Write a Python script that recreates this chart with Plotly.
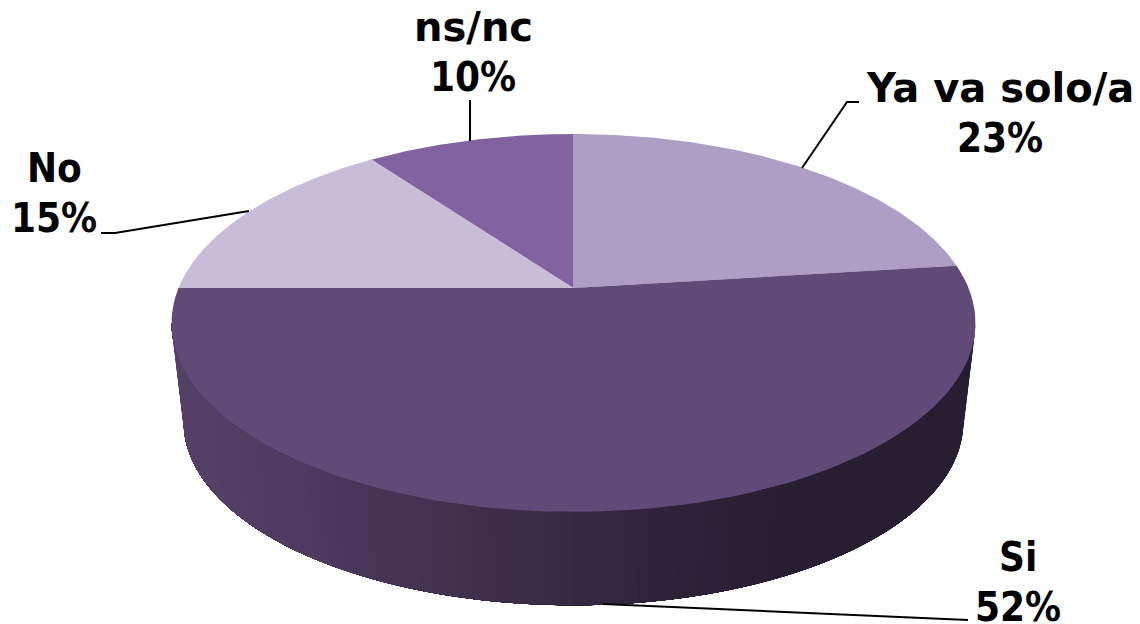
import numpy as np
import plotly.graph_objects as go

# --- data ---
categories = ["Ya va solo/a", "Si", "No", "ns/nc"]
values = [23, 52, 15, 10]
top_colors = ["#ae9dc4", "#604a78", "#c8bdd8", "#80639f"]

# --- perspective geometry (pixel space) ---
CX, CY, W, H, K = 573.5, 288.0, 395.0, 182.5, 0.185
ELL_CY = 323.0
LOW_CY, LOW_SCALE = 422.0, 0.97


def project(t):
    X, Y = np.sin(t), np.cos(t)
    d = 1 + K * Y
    return CX + W * X / d, CY - H * Y / d


def lower(x, y):
    return CX + (x - CX) * LOW_SCALE, LOW_CY + (y - ELL_CY) * LOW_SCALE


side_stops_x = [172, 300, 400, 573, 700, 800, 975]
side_stops_rgb = [(85, 64, 105), (78, 59, 97), (69, 52, 84), (56, 41, 68),
                  (44, 33, 54), (39, 30, 49), (39, 30, 49)]


def side_color(x):
    c = [np.interp(x, side_stops_x, [s[i] for s in side_stops_rgb]) for i in range(3)]
    return "rgb(%d,%d,%d)" % tuple(round(v) for v in c)


fig = go.Figure()

# side wall: painted right-to-left order so each band covers everything beyond it
t0 = np.arccos(-K)
t1 = 2 * np.pi - t0
edges = np.linspace(t0, t1, 101)  # t0 = right edge, t1 = left edge
for a in edges[:-1]:
    ts = np.linspace(a, t1, 120)
    ux, uy = project(ts)
    lx, ly = lower(ux, uy)
    col = side_color(project(np.array([a]))[0][0])
    fig.add_trace(go.Scatter(
        x=np.concatenate([ux, lx[::-1]]), y=np.concatenate([uy, ly[::-1]]),
        mode="lines", fill="toself", fillcolor=col,
        line=dict(color=col, width=0), hoverinfo="skip", showlegend=False))

# top face
total = sum(values)
start = 0.0
for name, v, c in zip(categories, values, top_colors):
    ts = np.linspace(start, start + v / total, 120) * 2 * np.pi
    px, py = project(ts)
    fig.add_trace(go.Scatter(
        x=np.concatenate([[CX], px, [CX]]), y=np.concatenate([[CY], py, [CY]]),
        mode="lines", fill="toself", fillcolor=c, name=name,
        line=dict(color=c, width=0), showlegend=False))
    start += v / total

# leader lines
leaders = [
    ([802, 847, 859], [168, 102, 102]),
    ([603, 960, 968], [604, 620, 620]),
    ([249, 115, 101], [211, 233, 233]),
    ([470, 470], [141, 100]),
]
for lxs, lys in leaders:
    fig.add_trace(go.Scatter(x=lxs, y=lys, mode="lines", hoverinfo="skip",
                             line=dict(color="black", width=2), showlegend=False))

# labels: (center x, baseline of name, baseline of percent)
WIDE = "DejaVu Sans"
COND = "DejaVu Sans Condensed"
label_pos = {"Ya va solo/a": (1000, 103, 153, WIDE), "Si": (1018, 572, 622, COND),
             "No": (54, 183, 233, COND), "ns/nc": (473, 42, 92, WIDE)}
annots = []
for name, v in zip(categories, values):
    cx, b1, b2, fam = label_pos[name]
    for txt, b, f in ((name, b1, fam), (f"{v}%", b2, COND)):
        annots.append(dict(x=cx, y=b, yshift=-10, text=f"<b>{txt}</b>", showarrow=False,
                           xref="x", yref="y", xanchor="center", yanchor="bottom",
                           font=dict(family=f, size=40, color="black", weight="bold")))

fig.update_layout(
    width=1140, height=624, margin=dict(l=0, r=0, t=0, b=0),
    paper_bgcolor="white", plot_bgcolor="white", annotations=annots,
    xaxis=dict(range=[0, 1140], visible=False, fixedrange=True),
    yaxis=dict(range=[624, 0], visible=False, fixedrange=True),
)
fig.write_html("out.html", config={"displayModeBar": False},
               post_script="document.body.style.margin='0';")
